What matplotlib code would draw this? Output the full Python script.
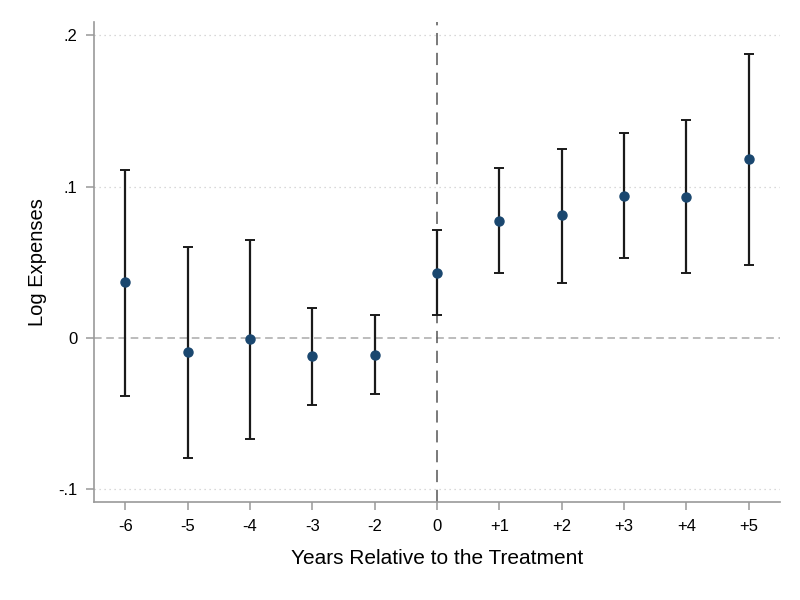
import matplotlib
matplotlib.use("Agg")
import matplotlib.pyplot as plt

plt.rcParams["font.family"] = ["Liberation Sans", "DejaVu Sans"]

# event-study coefficients with 95% CI
periods = ["-6", "-5", "-4", "-3", "-2", "0", "+1", "+2", "+3", "+4", "+5"]
coef = [0.037, -0.009, -0.001, -0.012, -0.011, 0.043, 0.077, 0.081, 0.094, 0.093, 0.118]
ci_low = [-0.038, -0.079, -0.067, -0.044, -0.037, 0.015, 0.043, 0.036, 0.053, 0.043, 0.048]
ci_high = [0.111, 0.060, 0.065, 0.020, 0.015, 0.071, 0.112, 0.125, 0.135, 0.144, 0.1875]
yticks = [-0.1, 0, 0.1, 0.2]
ytick_labels = ["-.1", "0", ".1", ".2"]

fig = plt.figure(figsize=(8, 6), dpi=100)
ax = fig.add_axes([0.1175, 0.1633, 0.8575, 0.80])

x = list(range(len(periods)))
err = [[c - lo for c, lo in zip(coef, ci_low)], [hi - c for c, hi in zip(coef, ci_high)]]

for yt in yticks:
    if yt != 0:
        ax.axhline(yt, color="#cccccc", linestyle=(0, (1, 3)), linewidth=0.9, zorder=0)
ax.axhline(0, color="#aaaaaa", linestyle=(0, (5, 3)), linewidth=1.1, zorder=1)
ax.axvline(periods.index("0"), color="#555555", linestyle=(0, (8, 5)), linewidth=1.1, zorder=1)

ax.errorbar(x, coef, yerr=err, fmt="none", ecolor="#1a1a1a", elinewidth=1.6,
            capsize=3.5, capthick=1.4, zorder=2)
ax.plot(x, coef, "o", color="#1a476f", markersize=6.5, zorder=3)

ax.set_xlim(-0.5, 10.5)
ax.set_ylim(-0.1083, 0.2086)
ax.set_xticks(x)
ax.set_xticklabels(periods, fontsize=12)
ax.set_yticks(yticks)
ax.set_yticklabels(ytick_labels, fontsize=12)
ax.tick_params(axis="both", direction="out", length=6, width=1.1, color="#999999", pad=6)

for side in ["top", "right"]:
    ax.spines[side].set_visible(False)
for side in ["left", "bottom"]:
    ax.spines[side].set_color("#999999")
    ax.spines[side].set_linewidth(1.2)

ax.set_xlabel("Years Relative to the Treatment", fontsize=15, labelpad=11)
ax.set_ylabel("Log Expenses", fontsize=14.5, labelpad=8)

fig.savefig("out.png", dpi=100)
